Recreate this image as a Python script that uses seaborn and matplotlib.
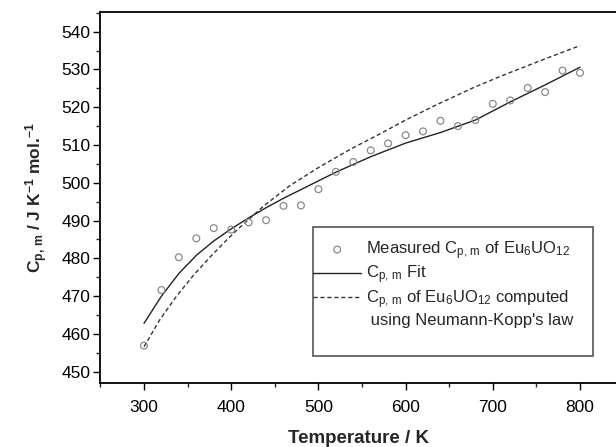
import numpy as np
import pandas as pd
import matplotlib
matplotlib.use("Agg")
import matplotlib.pyplot as plt
from matplotlib.patches import Rectangle
from matplotlib.lines import Line2D
from matplotlib.ticker import MultipleLocator
import seaborn as sns

# Measured heat capacity
meas_T = [300, 320, 340, 360, 380, 400, 420, 440, 460, 480, 500, 520, 540, 560,
          580, 600, 620, 640, 660, 680, 700, 720, 740, 760, 780, 800]
meas_cp = [456.9, 471.6, 480.3, 485.3, 488.0, 487.6, 489.5, 490.1, 493.9, 494.0,
           498.3, 502.9, 505.5, 508.6, 510.4, 512.6, 513.6, 516.4, 515.0, 516.6,
           520.9, 521.8, 525.1, 524.0, 529.7, 529.1]

# Fit curve
fit_T = [300, 320, 340, 360, 380, 400, 420, 440, 460, 480, 500, 520, 560, 600,
         640, 680, 700, 720, 760, 800]
fit_cp = [462.8, 470.0, 476.0, 480.8, 484.6, 487.8, 490.7, 493.4, 495.9, 498.2,
          500.5, 502.8, 506.9, 510.5, 513.3, 516.6, 519.0, 521.4, 525.9, 530.6]

# Neumann-Kopp estimate
nk_T = [300, 318, 337, 357, 376, 395, 408, 437, 467, 502, 536, 571, 600, 635,
        677, 708, 720, 760, 800]
nk_cp = [456.6, 463.7, 469.9, 475.6, 480.4, 484.9, 487.8, 493.8, 499.2, 504.3,
         508.8, 513.0, 516.6, 520.6, 525.1, 528.1, 529.2, 532.8, 536.3]

sns.set_style("ticks")
plt.rcParams["font.family"] = ["Liberation Sans", "DejaVu Sans"]
plt.rcParams["mathtext.fontset"] = "custom"
plt.rcParams["mathtext.rm"] = "Liberation Sans"
plt.rcParams["mathtext.it"] = "Liberation Sans:italic"
plt.rcParams["mathtext.bf"] = "Liberation Sans:bold"

fig = plt.figure(figsize=(6.16, 4.47), dpi=100)
ax = fig.add_axes([100.4 / 616, 1 - 383.3 / 447, (616 - 100.4) / 616, (383.3 - 12) / 447])

df_m = pd.DataFrame({"T": meas_T, "cp": meas_cp})
df_f = pd.DataFrame({"T": fit_T, "cp": fit_cp})
df_n = pd.DataFrame({"T": nk_T, "cp": nk_cp})

lab_m = r"Measured C$_{\mathrm{p,\,m}}$ of Eu$_{\mathrm{6}}$UO$_{\mathrm{12}}$"
lab_f = r"C$_{\mathrm{p,\,m}}$ Fit"
lab_n = r"C$_{\mathrm{p,\,m}}$ of Eu$_{\mathrm{6}}$UO$_{\mathrm{12}}$ computed"
lab_n2 = " using Neumann-Kopp's law"

sns.scatterplot(data=df_m, x="T", y="cp", ax=ax, marker="o", s=24,
                facecolor="none", edgecolor="#8a8a8a", linewidth=0.9, label=lab_m,
                zorder=3)
sns.lineplot(data=df_f, x="T", y="cp", ax=ax, color="#222222", linewidth=1.0,
             label=lab_f)
sns.lineplot(data=df_n, x="T", y="cp", ax=ax, color="#333333", linewidth=1.0,
             label=lab_n)
ax.lines[-1].set_dashes([3, 2])

ax.set_xlim(250, 841.3)
ax.set_ylim(446.93, 545.2)
ax.xaxis.set_major_locator(MultipleLocator(100))
ax.xaxis.set_minor_locator(MultipleLocator(50))
ax.yaxis.set_major_locator(MultipleLocator(10))
ax.yaxis.set_minor_locator(MultipleLocator(5))
ax.tick_params(which="major", direction="out", length=5, width=1.0,
               labelsize=12.5, colors="black")
ax.tick_params(axis="y", which="major", pad=2)
ax.tick_params(axis="x", which="major", pad=7)
ax.tick_params(which="minor", direction="out", length=3, width=1.0)
ax.tick_params(top=False, right=False, which="both")

for s in ["left", "bottom", "top"]:
    ax.spines[s].set_visible(True)
    ax.spines[s].set_linewidth(1.3)
    ax.spines[s].set_color("black")
ax.spines["right"].set_visible(False)

ax.set_xlabel("Temperature / K", fontsize=13.5, fontweight="bold", labelpad=11)
ax.set_ylabel(r"C$_{\mathbf{p,\,m}}$ / J K$^{\mathbf{-1}}$ mol.$^{\mathbf{-1}}$",
              fontsize=12.5, fontweight="bold", labelpad=8)

# Legend box (with empty space beneath entries)
x0 = (313 - 100.4) / 515.6
x1 = (593 - 100.4) / 515.6
y0 = (383.3 - 356) / 371.3
y1 = (383.3 - 227) / 371.3
ax.add_patch(Rectangle((x0, y0), x1 - x0, y1 - y0, transform=ax.transAxes,
                       facecolor="white", edgecolor="#555555", linewidth=1.2,
                       zorder=5))
handles, labels = ax.get_legend_handles_labels()
handles.append(Line2D([], [], linestyle="none", marker=None))
labels.append(lab_n2)
leg = ax.legend(handles, labels, loc="upper left",
                bbox_to_anchor=(313 / 616, 1 - 239 / 447),
                bbox_transform=fig.transFigure, frameon=False, fontsize=12,
                handlelength=2.9, handletextpad=0.25, labelspacing=0.12,
                borderpad=0, borderaxespad=0, markerscale=1.0)
leg.set_zorder(6)

fig.savefig("out.png", dpi=100)
